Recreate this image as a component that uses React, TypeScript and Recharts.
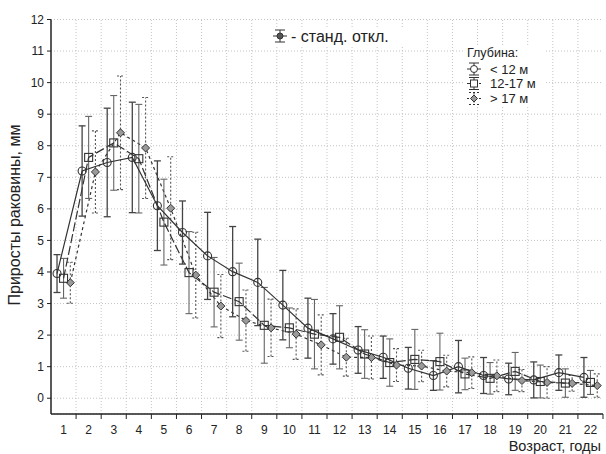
import React from 'react';
import {
  ComposedChart,
  Line,
  XAxis,
  YAxis,
  CartesianGrid,
  ReferenceLine,
  ErrorBar,
} from 'recharts';

// Age classes, years
const ages = [1, 2, 3, 4, 5, 6, 7, 8, 9, 10, 11, 12, 13, 14, 15, 16, 17, 18, 19, 20, 21, 22];

// Depth < 12 m
const shallowMean = [3.95, 7.2, 7.47, 7.63, 6.1, 5.25, 4.51, 4.01, 3.67, 2.95, 2.22, 1.88, 1.53, 1.3, 0.95, 0.72, 1.0, 0.72, 0.61, 0.58, 0.81, 0.66];
const shallowSd = [0.6, 1.43, 1.72, 1.75, 1.42, 1.0, 1.38, 1.43, 1.37, 1.1, 0.95, 0.8, 0.74, 0.67, 0.66, 0.47, 0.83, 0.57, 0.5, 0.57, 0.56, 0.63];

// Depth 12-17 m
const midMean = [3.8, 7.63, 8.09, 7.59, 5.58, 3.98, 3.36, 3.06, 2.31, 2.23, 2.03, 1.93, 1.4, 1.13, 1.23, 1.16, 0.77, 0.63, 0.85, 0.53, 0.48, 0.5];
const midSd = [0.63, 1.3, 1.5, 1.72, 1.36, 1.3, 1.1, 1.22, 1.2, 0.63, 1.1, 1.0, 0.77, 0.75, 0.95, 0.9, 0.5, 0.5, 0.6, 0.52, 0.45, 0.38];

// Depth > 17 m
const deepMean = [3.66, 7.17, 8.41, 7.93, 6.02, 3.9, 2.92, 2.46, 2.23, 2.03, 1.69, 1.3, 1.29, 1.05, 1.02, 0.86, 0.81, 0.71, 0.56, 0.5, 0.47, 0.4];
const deepSd = [0.65, 1.3, 1.8, 1.6, 1.63, 1.36, 1.0, 0.97, 0.91, 0.8, 0.95, 0.6, 0.68, 0.52, 0.5, 0.5, 0.5, 0.5, 0.35, 0.5, 0.25, 0.37];

const yTicks = [0, 1, 2, 3, 4, 5, 6, 7, 8, 9, 10, 11, 12];
const bandEdges = [1.5, 2.5, 3.5, 4.5, 5.5, 6.5, 7.5, 8.5, 9.5, 10.5, 11.5, 12.5, 13.5, 14.5, 15.5, 16.5, 17.5, 18.5, 19.5, 20.5, 21.5];

const W = 606;
const H = 454;
const PLOT_W = 552;
const HALF_BAND = PLOT_W / ages.length / 2;
const FONT = '"Liberation Sans", Arial, sans-serif';
const GRID = '#c4c4c4';

const toRows = (mean: number[], sd: number[], shift: number) =>
  ages.map((age, i) => ({ x: age + shift, mean: mean[i], sd: sd[i] }));

const shallow = toRows(shallowMean, shallowSd, -0.26);
const mid = toRows(midMean, midSd, 0);
const deep = toRows(deepMean, deepSd, 0.27);

const CircleDot = (p: any) => (
  <circle key={p.key} cx={p.cx} cy={p.cy} r={4} fill="none" stroke="#333" strokeWidth={1.1} />
);
const SquareDot = (p: any) => (
  <rect key={p.key} x={p.cx - 4} y={p.cy - 4} width={8} height={8} fill="none" stroke="#333" strokeWidth={1.1} />
);
const DiamondDot = (p: any) => (
  <polygon
    key={p.key}
    points={`${p.cx},${p.cy - 4} ${p.cx + 4},${p.cy} ${p.cx},${p.cy + 4} ${p.cx - 4},${p.cy}`}
    fill="#9a9a9a"
    stroke="#333"
    strokeWidth={1}
  />
);

// labels sit in the middle of each age band, tick marks on the band edges
const AgeTick = (p: any) => {
  const { x, y, payload } = p;
  return (
    <g>
      <line x1={x + HALF_BAND} x2={x + HALF_BAND} y1={y} y2={y + 5} stroke="#222" />
      <text x={x} y={y + 20} textAnchor="middle" fontSize={12} fill="#222" fontFamily={FONT}>
        {payload.value}
      </text>
    </g>
  );
};

const Glyph = ({ x, y, dash, barDash, marker }: any) => (
  <g stroke="#333" strokeWidth={1}>
    <line x1={x - 7} x2={x + 7} y1={y} y2={y} strokeDasharray={dash} />
    <line x1={x} x2={x} y1={y - 6} y2={y + 6} strokeDasharray={barDash} />
    <line x1={x - 5} x2={x + 5} y1={y - 6} y2={y - 6} strokeDasharray={barDash} />
    <line x1={x - 5} x2={x + 5} y1={y + 6} y2={y + 6} strokeDasharray={barDash} />
    {marker}
  </g>
);

const App = () => {
  return (
    // pinned to the viewport so the body margin does not push it into scrolling
    <div style={{ position: 'fixed', left: 0, top: 0, width: W, height: H, background: '#fff' }}>
      <ComposedChart width={W} height={H} margin={{ top: 19.5, right: 3, left: 8, bottom: 0 }}>
        <CartesianGrid vertical={false} stroke={GRID} strokeDasharray="1 2" />
        {bandEdges.map((e) => (
          <ReferenceLine key={e} x={e} stroke={GRID} strokeDasharray="1 2" />
        ))}
        <XAxis
          dataKey="x"
          type="number"
          domain={[0.5, 22.5]}
          ticks={ages}
          interval={0}
          allowDataOverflow
          height={40}
          tickLine={false}
          tickSize={0}
          tickMargin={0}
          tick={AgeTick}
          axisLine={{ stroke: '#222', strokeWidth: 1.5 }}
        />
        <XAxis
          xAxisId="top"
          orientation="top"
          type="number"
          domain={[0.5, 22.5]}
          ticks={bandEdges}
          interval={0}
          allowDataOverflow
          height={0}
          tickSize={4}
          tickFormatter={() => ''}
          axisLine={{ stroke: '#444' }}
          tickLine={{ stroke: '#444' }}
        />
        <YAxis
          domain={[-0.5, 12]}
          ticks={yTicks}
          interval={0}
          allowDataOverflow
          width={43}
          tickSize={4}
          tickMargin={3}
          tick={{ fontSize: 12, fill: '#222', fontFamily: FONT }}
          axisLine={{ stroke: '#222', strokeWidth: 1.5 }}
          tickLine={{ stroke: '#222' }}
        />
        <YAxis
          yAxisId="right"
          orientation="right"
          domain={[-0.5, 12]}
          ticks={yTicks}
          interval={0}
          allowDataOverflow
          width={0}
          tickSize={4}
          tickFormatter={() => ''}
          axisLine={{ stroke: '#444' }}
          tickLine={{ stroke: '#444' }}
        />
        <Line
          data={deep}
          dataKey="mean"
          type="linear"
          stroke="#333"
          strokeWidth={1.2}
          strokeDasharray="3 3"
          dot={DiamondDot}
          activeDot={false}
          isAnimationActive={false}
        >
          <ErrorBar dataKey="sd" direction="y" width={3.5} stroke="#555" strokeWidth={1.1} strokeDasharray="2 2" />
        </Line>
        <Line
          data={mid}
          dataKey="mean"
          type="linear"
          stroke="#333"
          strokeWidth={1.2}
          strokeDasharray="9 3"
          dot={SquareDot}
          activeDot={false}
          isAnimationActive={false}
        >
          <ErrorBar dataKey="sd" direction="y" width={3.5} stroke="#666" strokeWidth={1.1} />
        </Line>
        <Line
          data={shallow}
          dataKey="mean"
          type="linear"
          stroke="#333"
          strokeWidth={1.2}
          dot={CircleDot}
          activeDot={false}
          isAnimationActive={false}
        >
          <ErrorBar dataKey="sd" direction="y" width={3.5} stroke="#444" strokeWidth={1.3} />
        </Line>
      </ComposedChart>

      <svg
        width={W}
        height={H}
        style={{ position: 'absolute', left: 0, top: 0, pointerEvents: 'none' }}
        fontFamily={FONT}
      >
        <text
          transform="translate(14, 215) rotate(-90)"
          textAnchor="middle"
          dominantBaseline="central"
          fontSize={16}
          fill="#222"
        >
          Приросты раковины, мм
        </text>
        <text x={601} y={450.5} textAnchor="end" fontSize={14.5} fill="#222">
          Возраст, годы
        </text>

        <rect x={271} y={27} width={155} height={20} fill="#fff" />
        <Glyph x={280} y={36} marker={<circle cx={280} cy={36} r={3} fill="#555" />} />
        <text x={291} y={42} fontSize={16} fill="#222">
          - станд. откл.
        </text>

        <rect x={463} y={45} width={82} height={62} fill="#fff" />
        <text x={467} y={57} fontSize={12.5} fill="#222">
          Глубина:
        </text>
        <Glyph x={474} y={69} marker={<circle cx={474} cy={69} r={3.5} fill="#fff" />} />
        <text x={490} y={73.5} fontSize={13} fill="#222">
          &lt; 12 м
        </text>
        <Glyph
          x={474}
          y={83.5}
          dash="4 2"
          marker={<rect x={470.5} y={80} width={7} height={7} fill="#fff" />}
        />
        <text x={490} y={88} fontSize={13} fill="#222">
          12-17 м
        </text>
        <Glyph
          x={474}
          y={98.5}
          dash="2 2"
          barDash="2 2"
          marker={<polygon points="474,95 477.5,98.5 474,102 470.5,98.5" fill="#999" />}
        />
        <text x={490} y={103} fontSize={13} fill="#222">
          &gt; 17 м
        </text>
      </svg>
    </div>
  );
};

export default App;
